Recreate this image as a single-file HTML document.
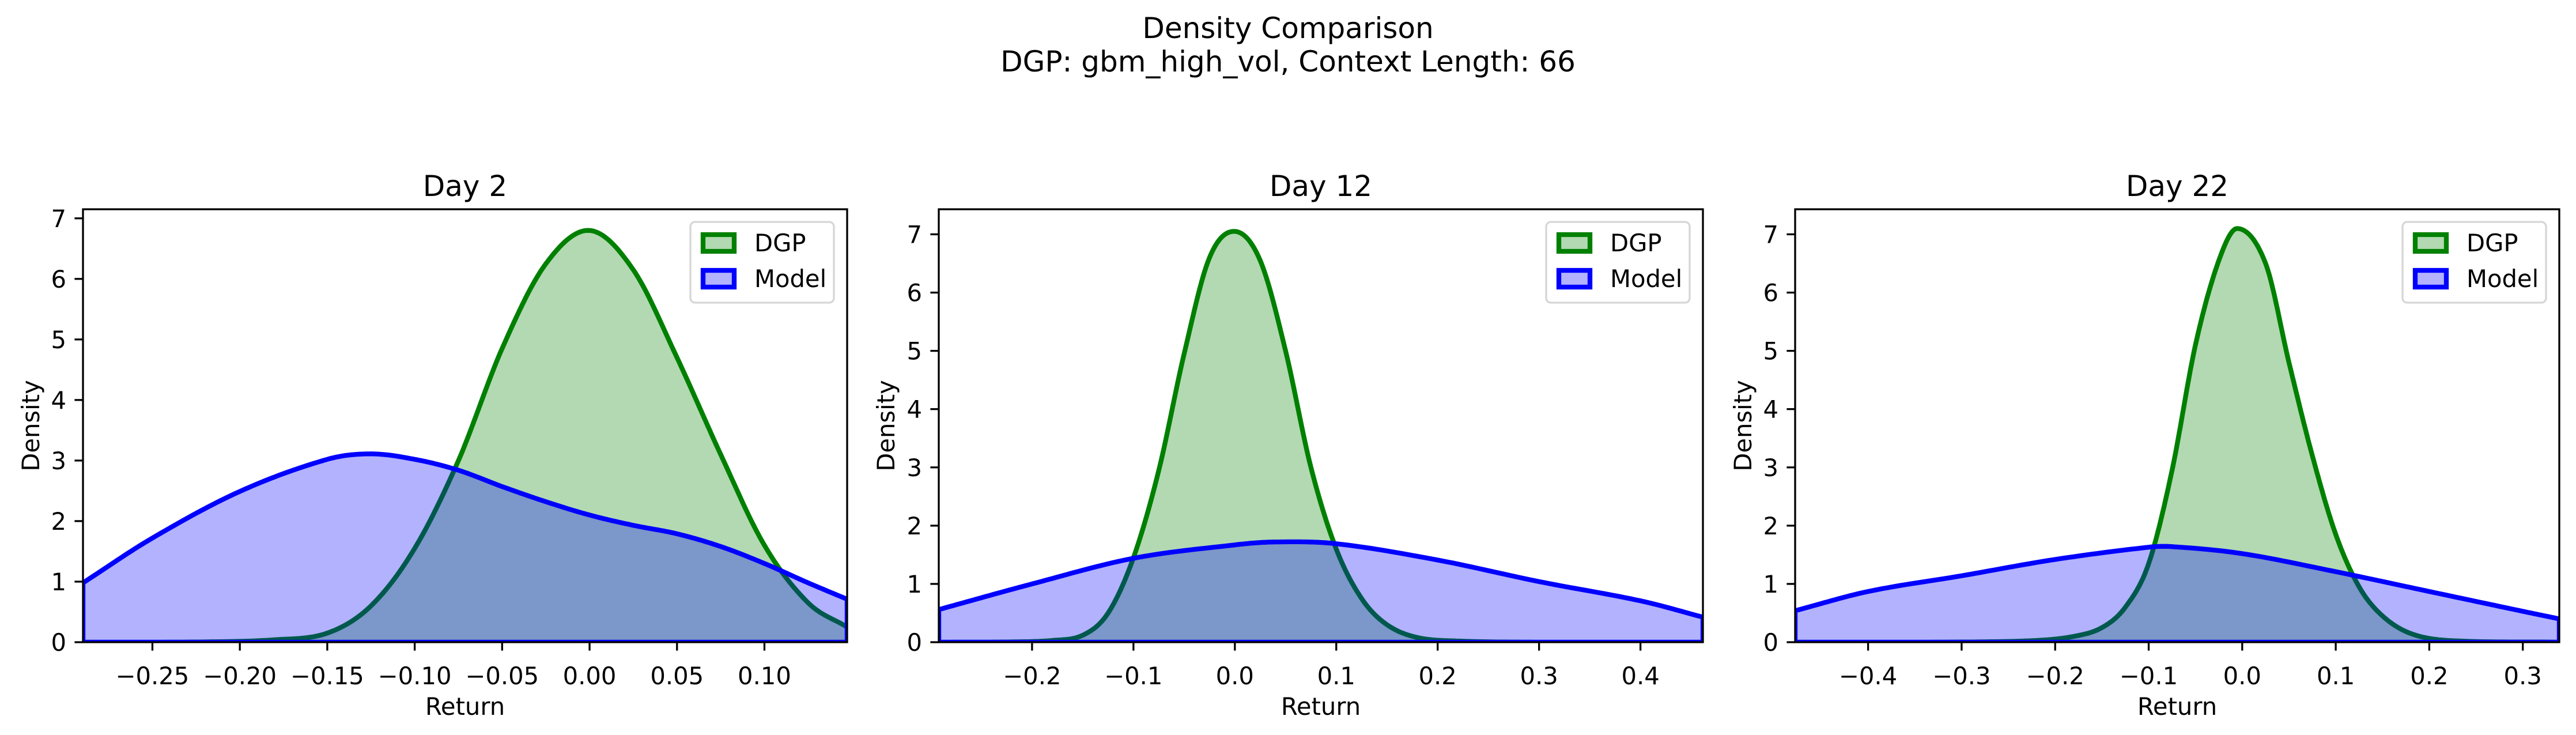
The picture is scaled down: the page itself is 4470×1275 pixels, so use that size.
<!DOCTYPE html>
<html><head><meta charset="utf-8"><style>
html,body{margin:0;padding:0;background:#fff;}
svg{display:block;font-family:"DejaVu Sans","Liberation Sans",sans-serif;}
</style></head><body>
<svg id="fig" width="4470" height="1275" viewBox="0 0 4470 1275" xmlns="http://www.w3.org/2000/svg">
<rect width="4470" height="1275" fill="#fff"/>
<text x="2235" y="66" font-size="50" text-anchor="middle">Density Comparison</text>
<text x="2235" y="124" font-size="50" text-anchor="middle">DGP: gbm_high_vol, Context Length: 66</text>
</svg>
<script>
// Panel 1 (Day 2)
const p1DgpX = [-0.2897,-0.22,-0.18,-0.15,-0.125,-0.1,-0.075,-0.05,-0.025,0,0.025,0.05,0.075,0.1,0.125,0.1473];
const p1DgpY = [0,0.005,0.04,0.15,0.6,1.55,3.0,4.85,6.25,6.8,6.15,4.7,3.1,1.6,0.65,0.25];
const p1ModX = [-0.2897,-0.25,-0.2,-0.15,-0.125,-0.1,-0.075,-0.05,-0.025,0,0.025,0.05,0.075,0.1,0.125,0.1473];
const p1ModY = [0.98,1.72,2.49,3.02,3.11,3.02,2.84,2.57,2.32,2.1,1.93,1.79,1.58,1.3,0.98,0.71];
const p1XTicks = [-0.25,-0.2,-0.15,-0.1,-0.05,0,0.05,0.1];
const p1XLabels = ["\u22120.25","\u22120.20","\u22120.15","\u22120.10","\u22120.05","0.00","0.05","0.10"];
// Panel 2 (Day 12)
const p2DgpX = [-0.292,-0.22,-0.18,-0.15,-0.125,-0.1,-0.075,-0.05,-0.025,0,0.025,0.05,0.075,0.1,0.125,0.15,0.18,0.22,0.3,0.4616];
const p2DgpY = [0,0.005,0.03,0.12,0.5,1.45,2.95,4.95,6.6,7.05,6.55,5.0,3.0,1.6,0.75,0.3,0.08,0.02,0,0];
const p2ModX = [-0.292,-0.2,-0.1,0,0.04,0.1,0.2,0.3,0.4,0.4616];
const p2ModY = [0.56,1.0,1.44,1.67,1.72,1.69,1.41,1.04,0.71,0.43];
const p2XTicks = [-0.2,-0.1,0,0.1,0.2,0.3,0.4];
const p2XLabels = ["\u22120.2","\u22120.1","0.0","0.1","0.2","0.3","0.4"];
// Panel 3 (Day 22)
const p3DgpX = [-0.478,-0.3,-0.22,-0.18,-0.15,-0.125,-0.1,-0.075,-0.05,-0.025,-0.005,0.025,0.05,0.075,0.1,0.125,0.15,0.18,0.22,0.339];
const p3DgpY = [0,0.003,0.03,0.1,0.25,0.6,1.35,2.95,5.1,6.55,7.1,6.5,4.8,3.2,1.85,0.95,0.45,0.15,0.03,0];
const p3ModX = [-0.478,-0.4,-0.3,-0.2,-0.1,-0.075,0,0.1,0.2,0.3,0.339];
const p3ModY = [0.54,0.87,1.14,1.42,1.63,1.64,1.52,1.21,0.87,0.53,0.40];
const p3XTicks = [-0.4,-0.3,-0.2,-0.1,0,0.1,0.2,0.3];
const p3XLabels = ["\u22120.4","\u22120.3","\u22120.2","\u22120.1","0.0","0.1","0.2","0.3"];
const yTicks = [0,1,2,3,4,5,6,7];
const titles = ["Day 2","Day 12","Day 22"];

const NS="http://www.w3.org/2000/svg";
const fig=document.getElementById('fig');
function mk(tag,attrs,parent){const e=document.createElementNS(NS,tag);for(const k in attrs)e.setAttribute(k,attrs[k]);(parent||fig).appendChild(e);return e;}

const panels=[
 {L:144,R:1470,T:363,B:1114,x0:-0.2897,x1:0.1473,y1:7.15,dx:p1DgpX,dy:p1DgpY,mx:p1ModX,my:p1ModY,xt:p1XTicks,xl:p1XLabels,ylab:53},
 {L:1629,R:2955,T:363,B:1114,x0:-0.292,x1:0.4616,y1:7.43,dx:p2DgpX,dy:p2DgpY,mx:p2ModX,my:p2ModY,xt:p2XTicks,xl:p2XLabels,ylab:1537},
 {L:3115,R:4441,T:363,B:1114,x0:-0.478,x1:0.339,y1:7.43,dx:p3DgpX,dy:p3DgpY,mx:p3ModX,my:p3ModY,xt:p3XTicks,xl:p3XLabels,ylab:3024}
];

function curvePts(xs,ys,sx,sy){
  const n=xs.length,m=[];
  for(let i=0;i<n;i++){
    if(i===0)m.push((ys[1]-ys[0])/(xs[1]-xs[0]));
    else if(i===n-1)m.push((ys[n-1]-ys[n-2])/(xs[n-1]-xs[n-2]));
    else m.push((ys[i+1]-ys[i-1])/(xs[i+1]-xs[i-1]));
  }
  const out=[];
  for(let i=0;i<n-1;i++){
    const h=xs[i+1]-xs[i];
    for(let s=0;s<20;s++){
      const t=s/20,t2=t*t,t3=t2*t;
      const y=(2*t3-3*t2+1)*ys[i]+(t3-2*t2+t)*h*m[i]+(-2*t3+3*t2)*ys[i+1]+(t3-t2)*h*m[i+1];
      out.push([sx(xs[i]+t*h),sy(Math.max(0,y))]);
    }
  }
  out.push([sx(xs[n-1]),sy(ys[n-1])]);
  return out;
}

panels.forEach((p,i)=>{
  const sx=v=>p.L+(v-p.x0)/(p.x1-p.x0)*(p.R-p.L);
  const sy=v=>p.B-v/p.y1*(p.B-p.T);
  const g=mk('g',{});
  
  
  const cid='clip'+i;
  const cp=mk('clipPath',{id:cid},g);mk('rect',{x:p.L,y:p.T,width:p.R-p.L,height:p.B-p.T},cp);
  const series=[[p.dx,p.dy,'#008000','dgp'],[p.mx,p.my,'#0000ff','model']];
  series.forEach(s=>{
    const pts=curvePts(s[0],s[1],sx,sy);
    const d="M"+pts.map(q=>q[0].toFixed(1)+","+q[1].toFixed(1)).join(" L")+" L"+sx(s[0][s[0].length-1])+","+sy(0)+" L"+sx(s[0][0])+","+sy(0)+" Z";
    const f=mk('path',{d:d,fill:s[2],'fill-opacity':0.3,stroke:'none','clip-path':'url(#'+cid+')'},g);
    
    
    const l=mk('path',{d:d,fill:'none',stroke:s[2],'stroke-width':8.3,'stroke-linejoin':'round','clip-path':'url(#'+cid+')'},g);
    
    
  });
  const fr=mk('rect',{x:p.L,y:p.T,width:p.R-p.L,height:p.B-p.T,fill:'none',stroke:'#000','stroke-width':3.3},g);
  
  
  p.xt.forEach((v,k)=>{
    const x=sx(v);
    mk('line',{x1:x,x2:x,y1:p.B,y2:p.B+14.6,stroke:'#000','stroke-width':3.3},g);
    const t=mk('text',{x:x,y:p.B+73,'font-size':41.7,'text-anchor':'middle'},g);
    t.textContent=p.xl[k];
    
    
  });
  yTicks.forEach(v=>{
    const y=sy(v);
    mk('line',{x1:p.L-14.6,x2:p.L,y1:y,y2:y,stroke:'#000','stroke-width':3.3},g);
    const t=mk('text',{x:p.L-29,y:y+15,'font-size':41.7,'text-anchor':'end'},g);
    t.textContent=String(v);
    
    
  });
  const tt=mk('text',{x:(p.L+p.R)/2,y:340,'font-size':50,'text-anchor':'middle'},g);
  tt.textContent=titles[i];
  
  
  const xl=mk('text',{x:(p.L+p.R)/2,y:1240,'font-size':41.7,'text-anchor':'middle'},g);
  xl.textContent='Return';
  
  
  const yl=mk('text',{x:0,y:0,'font-size':41.7,'text-anchor':'middle',transform:'translate('+(p.ylab+15)+','+((p.T+p.B)/2)+') rotate(-90)'},g);
  yl.textContent='Density';
  
  
  const lw=249, lx=p.R-23-lw, ly=p.T+22;
  const lg=mk('g',{},g);
  
  
  mk('rect',{x:lx,y:ly,width:lw,height:140,rx:8,fill:'#fff','fill-opacity':0.8,stroke:'#d6d6d6','stroke-width':3.3},lg);
  [['DGP','#008000',407],['Model','#0000ff',469]].forEach(e=>{
    const en=mk('g',{},lg);
    
    
    mk('rect',{x:lx+22,y:e[2],width:54,height:29,fill:e[1],'fill-opacity':0.3,stroke:e[1],'stroke-width':8.3},en);
    const t=mk('text',{x:lx+111,y:e[2]+29,'font-size':41.7},en);
    t.textContent=e[0];
  });
});
</script>
</body></html>
